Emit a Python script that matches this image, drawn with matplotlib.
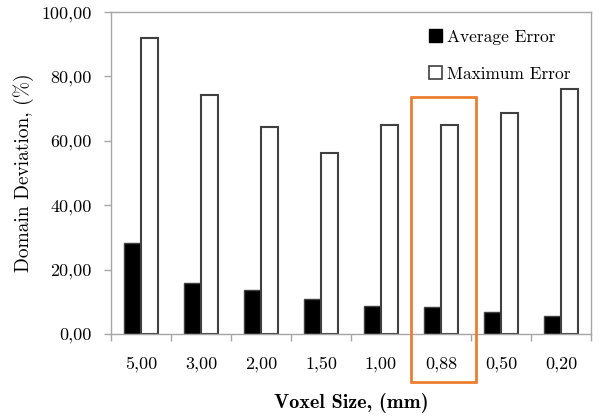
import matplotlib.pyplot as plt
from matplotlib.patches import Patch, Rectangle
import numpy as np

voxel_sizes = ["5,00", "3,00", "2,00", "1,50", "1,00", "0,88", "0,50", "0,20"]
average_error = [28.2, 15.9, 13.7, 10.9, 8.8, 8.3, 6.7, 5.6]
maximum_error = [92.1, 74.2, 64.4, 56.1, 64.9, 64.8, 68.5, 76.0]
y_ticks = [0, 20, 40, 60, 80, 100]
highlight = "0,88"

grey = "#a6a6a6"

fig = plt.figure(figsize=(6.02, 4.17), dpi=100)
ax = fig.add_axes([0.1844, 0.199, 0.7973, 0.772])

x = np.arange(len(voxel_sizes))
w = 0.29
ax.bar(x - w / 2, average_error, w, color="black", edgecolor="#404040", linewidth=1)
ax.bar(x + w / 2, maximum_error, w, color="white", edgecolor="#404040", linewidth=1.5)

ax.set_xlim(-0.5, len(voxel_sizes) - 0.5)
ax.set_ylim(0, 100)

# ticks between categories, labels centred under them
ax.set_xticks(np.arange(len(voxel_sizes) + 1) - 0.5)
ax.set_xticklabels([])
ax.set_xticks(x, minor=True)
ax.set_xticklabels(voxel_sizes, minor=True, fontfamily="cmr10", fontsize=13)
ax.tick_params(axis="x", which="minor", length=0, pad=16)
ax.tick_params(axis="x", which="major", length=5, color=grey, width=1)

ax.set_yticks(y_ticks)
ax.set_yticklabels([f"{v:.2f}".replace(".", ",") for v in y_ticks],
                   fontfamily="cmr10", fontsize=13)
ax.tick_params(axis="y", length=5, color=grey, width=1, pad=9)

for s in ax.spines.values():
    s.set_color(grey)
    s.set_linewidth(1)

ax.set_ylabel("Domain Deviation, (%)", fontfamily="cmr10", fontsize=14, labelpad=5)
ax.set_xlabel("Voxel Size, (mm)", fontfamily="cmb10", fontsize=14.5, labelpad=15)

# orange box around the chosen voxel size
i = voxel_sizes.index(highlight)
box = Rectangle((i - 0.505, -14.8), 1.085, 88.3, transform=ax.transData,
                fill=False, edgecolor="#ed7d31", linewidth=2, clip_on=False, zorder=5)
ax.add_patch(box)

handles = [Patch(facecolor="black", edgecolor="black"),
           Patch(facecolor="white", edgecolor="#404040", linewidth=1.2)]
ax.legend(handles, ["Average Error", "Maximum Error"], loc="upper right",
          bbox_to_anchor=(0.99, 0.995), frameon=False, handlelength=0.75, handleheight=0.75,
          handletextpad=0.3, labelspacing=1.25, prop={"family": "cmr10", "size": 12.5})

fig.savefig("out.png", dpi=100)
